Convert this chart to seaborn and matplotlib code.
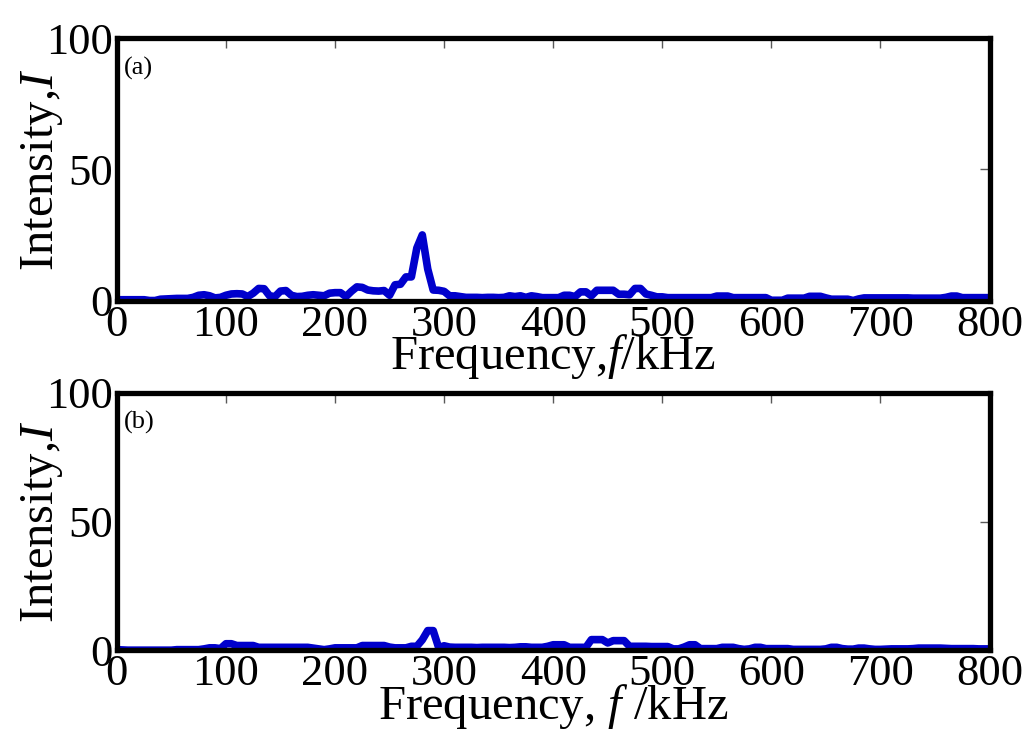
import matplotlib
matplotlib.use("Agg")
import matplotlib.pyplot as plt
import numpy as np
import pandas as pd
import seaborn as sns

# Spectra, 5 kHz steps from 0 to 800 kHz
freq_khz = np.arange(0, 805, 5)

intensity_a = [
    0.3, 0.3, 0.3, 0.3, 0.3, 0.3, 0.0, 0.0, 0.5, 0.6,   # 0-45
    0.7, 0.8, 0.8, 0.8, 1.2, 2.0, 2.2, 1.8, 1.0, 1.2,   # 50-95
    2.0, 2.5, 2.6, 2.5, 1.5, 2.8, 4.6, 4.5, 1.8, 1.5,   # 100-145
    3.6, 3.8, 2.0, 1.5, 1.6, 2.0, 2.2, 2.0, 1.8, 2.8,   # 150-195
    3.0, 3.0, 1.5, 3.5, 5.2, 5.0, 4.0, 3.7, 3.6, 3.8,   # 200-245
    2.0, 6.0, 6.2, 9.0, 9.0, 20.0, 25.0, 12.0, 4.0, 3.9, # 250-295
    3.5, 1.8, 1.8, 1.5, 1.2, 1.2, 1.2, 1.1, 1.2, 1.2,   # 300-345
    1.1, 1.2, 1.8, 1.5, 1.8, 1.2, 1.8, 1.5, 1.1, 1.1,   # 350-395
    1.1, 1.1, 2.0, 2.0, 1.5, 3.3, 3.3, 1.8, 3.9, 3.9,   # 400-445
    3.9, 3.9, 2.4, 2.4, 2.2, 4.6, 4.6, 2.5, 2.0, 1.4,   # 450-495
    1.4, 1.1, 1.1, 1.1, 1.1, 1.1, 1.1, 1.1, 1.1, 1.1,   # 500-545
    1.7, 1.7, 1.7, 1.1, 1.1, 1.1, 1.1, 1.1, 1.1, 1.1,   # 550-595
    0.1, 0.1, 0.1, 0.9, 0.9, 0.9, 0.9, 1.6, 1.6, 1.6,   # 600-645
    1.0, 0.5, 0.5, 0.5, 0.5, 0.0, 0.6, 1.0, 1.0, 1.0,   # 650-695
    1.0, 1.0, 1.0, 1.0, 1.0, 1.0, 0.9, 0.9, 0.9, 0.9,   # 700-745
    0.9, 0.9, 1.2, 1.7, 1.7, 1.1, 1.1, 1.1, 1.1, 1.1,   # 750-795
    1.1,                                                # 800
]

intensity_b = [
    0.2, 0.1, 0.0, 0.0, 0.0, 0.0, 0.0, 0.0, 0.0, 0.0,   # 0-45
    0.0, 0.2, 0.2, 0.2, 0.2, 0.2, 0.5, 0.9, 0.9, 0.6,   # 50-95
    2.5, 2.5, 1.8, 1.8, 1.8, 1.8, 1.1, 1.1, 1.1, 1.1,   # 100-145
    1.1, 1.1, 1.1, 1.1, 1.1, 1.1, 0.8, 0.5, 0.2, 0.5,   # 150-195
    0.9, 0.9, 0.9, 0.9, 0.9, 1.8, 1.8, 1.8, 1.8, 1.8,   # 200-245
    1.2, 0.9, 0.9, 0.9, 1.5, 1.5, 4.0, 7.6, 7.6, 1.0,   # 250-295
    1.7, 1.2, 1.1, 1.1, 1.1, 1.1, 1.0, 1.1, 1.1, 1.1,   # 300-345
    1.1, 1.1, 1.0, 1.1, 1.3, 1.3, 1.1, 1.1, 1.1, 1.5,   # 350-395
    2.1, 2.1, 2.1, 1.1, 1.1, 1.1, 1.1, 4.1, 4.1, 4.1,   # 400-445
    2.8, 3.7, 3.7, 3.7, 1.5, 1.5, 1.5, 1.5, 1.4, 1.4,   # 450-495
    1.4, 1.4, 0.5, 0.5, 1.2, 2.1, 2.1, 0.6, 0.6, 0.6,   # 500-545
    0.6, 1.1, 1.1, 1.1, 0.6, 0.3, 0.5, 1.1, 1.1, 0.6,   # 550-595
    0.6, 0.6, 0.6, 0.6, 0.3, 0.3, 0.3, 0.3, 0.3, 0.3,   # 600-645
    0.5, 1.1, 1.1, 0.6, 0.4, 0.4, 0.8, 0.8, 0.5, 0.3,   # 650-695
    0.3, 0.4, 0.5, 0.5, 0.5, 0.5, 0.6, 0.8, 0.8, 0.8,   # 700-745
    0.8, 0.8, 0.7, 0.6, 0.6, 0.6, 0.6, 0.6, 0.5, 0.5,   # 750-795
    0.5,                                                # 800
]

panel_tags = ["(a)", "(b)"]
x_labels = ["Frequency,$f$/kHz", "Frequency, $f$ /kHz"]
y_label = "Intensity,$I$"
x_ticks = list(range(0, 900, 100))
y_ticks = [0, 50, 100]

sns.set_theme(style="white")
plt.rcParams["font.family"] = ["Liberation Serif", "DejaVu Serif"]
plt.rcParams["mathtext.fontset"] = "custom"
plt.rcParams["mathtext.rm"] = "Liberation Serif"
plt.rcParams["mathtext.it"] = "Liberation Serif:italic"
plt.rcParams["text.color"] = "black"
plt.rcParams["axes.labelcolor"] = "black"

fig = plt.figure(figsize=(10.34, 7.33), dpi=100)
ax_a = fig.add_axes([0.113, 0.590, 0.844, 0.358])
ax_b = fig.add_axes([0.113, 0.113, 0.844, 0.351])

for ax, vals, tag, xlab in zip([ax_a, ax_b], [intensity_a, intensity_b],
                               panel_tags, x_labels):
    df = pd.DataFrame({"f": freq_khz, "I": vals})
    sns.lineplot(data=df, x="f", y="I", ax=ax, color="#0000cc", lw=5.5)
    ax.set_xlim(0, 800)
    ax.set_ylim(0, 100)
    ax.set_xticks(x_ticks)
    ax.set_yticks(y_ticks)
    ax.tick_params(direction="in", top=True, right=True, length=7,
                   width=1, color="0.35", labelcolor="black",
                   labelsize=32, pad=3)
    for side in ax.spines.values():
        side.set_linewidth(3.8)
        side.set_color("black")
    ax.set_xlabel(xlab, fontsize=35, labelpad=-9)
    ax.set_ylabel(y_label, fontsize=35, labelpad=-14)
    ax.text(0.008, 0.93, tag, transform=ax.transAxes, fontsize=19,
            va="top", ha="left")

fig.savefig("out.png", dpi=100)
